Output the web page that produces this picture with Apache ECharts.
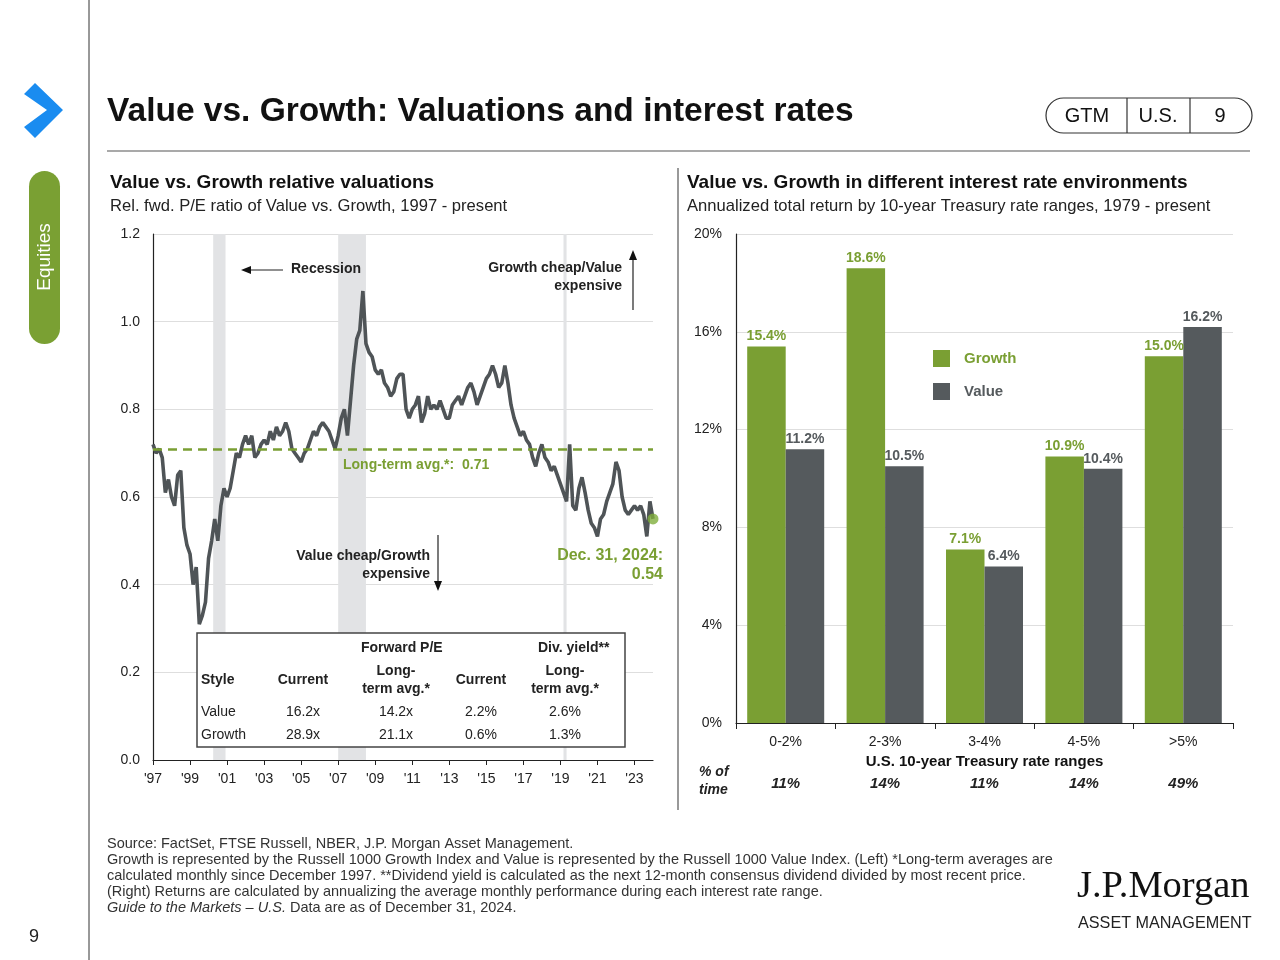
<!DOCTYPE html>
<html><head><meta charset="utf-8">
<script src="https://cdn.jsdelivr.net/npm/echarts@6/dist/echarts.min.js"></script>
<style>html,body{margin:0;padding:0;background:#fff}#c{width:1280px;height:960px}</style>
</head><body><div id="c"></div>
<script>
// ---------- DATA ----------
// Left: relative fwd P/E (Value / Growth), sampled every 2 months from Dec 1997
const relStartYear = 1997, relStartMonth = 12, relStepMonths = 2;
const relValues = [
  0.72,0.70,0.71,0.69,0.61,0.64,0.60,0.58,0.65,0.66,
  0.53,0.49,0.47,0.40,0.44,0.31,0.33,0.36,0.46,0.50,
  0.55,0.50,0.58,0.62,0.60,0.62,0.66,0.70,0.69,0.72,
  0.74,0.72,0.74,0.69,0.70,0.72,0.73,0.72,0.75,0.73,
  0.76,0.74,0.75,0.77,0.75,0.71,0.70,0.69,0.68,0.70,
  0.71,0.73,0.75,0.74,0.76,0.77,0.76,0.75,0.73,0.71,
  0.74,0.78,0.80,0.74,0.82,0.90,0.96,0.98,1.07,0.95,
  0.93,0.92,0.89,0.88,0.89,0.86,0.85,0.83,0.84,0.87,
  0.88,0.88,0.80,0.78,0.80,0.81,0.83,0.77,0.79,0.83,
  0.80,0.81,0.80,0.82,0.80,0.78,0.78,0.81,0.82,0.83,
  0.81,0.83,0.85,0.86,0.84,0.81,0.83,0.85,0.87,0.88,
  0.90,0.88,0.85,0.86,0.90,0.86,0.81,0.78,0.76,0.74,
  0.75,0.73,0.72,0.69,0.67,0.70,0.72,0.69,0.68,0.66,
  0.67,0.65,0.63,0.61,0.59,0.72,0.58,0.57,0.62,0.645,
  0.61,0.57,0.54,0.53,0.51,0.55,0.56,0.59,0.61,0.63,
  0.68,0.66,0.60,0.57,0.56,0.57,0.58,0.57,0.58,0.56,
  0.51,0.59,0.55
];
const recessions = [['2001-03','2001-11'],['2007-12','2009-06'],['2020-02','2020-04']];
const longTermAvg = 0.71;
const latestLabel = '0.54';
const relYTicks = { min: 0, max: 1.2, interval: 0.2 };

const tableHeader = ['Style','Current','Long-\nterm avg.*','Current','Long-\nterm avg.*'];
const tableRows = [
  ['Value','16.2x','14.2x','2.2%','2.6%'],
  ['Growth','28.9x','21.1x','0.6%','1.3%']
];

// Right: annualized total return by 10y Treasury range
const rateRanges = ['0-2%','2-3%','3-4%','4-5%','>5%'];
const growthReturns = [15.4, 18.6, 7.1, 10.9, 15.0];
const valueReturns  = [11.2, 10.5, 6.4, 10.4, 16.2];
const pctOfTime = ['11%','14%','11%','14%','49%'];

// ---------- BUILD ----------
const GREEN = '#7a9f33', GRAY = '#555a5d', LINE = '#4f5457';
const FONT = '"Liberation Sans", Arial, Helvetica, sans-serif';

function monthIdx(s){ const [y,m] = s.split('-').map(Number); return (y - relStartYear)*12 + (m - relStartMonth); }
const relData = relValues.map((v,i)=>[i*relStepMonths, v]);
const lastX = (relValues.length-1)*relStepMonths;

function T(x,y,text,o){
  const st = Object.assign({text:text, fill:'#222', fontSize:14, fontFamily:FONT, fontWeight:'normal',
    align:'left', verticalAlign:'middle', textAlign:'left', textVerticalAlign:'middle'}, o||{});
  if (st.align) st.textAlign = st.align;
  return {type:'text', x:x, y:y, z:50, silent:true, style:st};
}
function L(x1,y1,x2,y2,c,w){ return {type:'line', z:40, silent:true, shape:{x1,y1,x2,y2}, style:{stroke:c||'#333', lineWidth:w||1}}; }
function P(points,c){ return {type:'polygon', z:40, silent:true, shape:{points}, style:{fill:c||'#111'}}; }

const FOOT = {fontSize:14.5, fill:'#333'};
const graphics = [
  // sidebar
  P([[24,94],[35,83],[63,110],[35,138],[24,127],[47,110]], '#1a8cf0'),
  {type:'rect', z:40, shape:{x:29,y:171,width:31,height:173,r:15.5}, style:{fill:'#7aa033'}},
  {type:'text', z:50, x:45, y:257, rotation:Math.PI/2, style:{text:'Equities', fill:'#fff', fontSize:19, fontFamily:FONT, align:'center', verticalAlign:'middle', textAlign:'center', textVerticalAlign:'middle'}},
  L(89,0,89,960,'#333',1),
  T(29,937,'9',{fontSize:18}),
  // header
  T(107,112,'Value vs. Growth: Valuations and interest rates',{fontSize:33.5, fontWeight:'bold', fill:'#111'}),
  {type:'rect', z:40, shape:{x:1046,y:98,width:206,height:35,r:17.5}, style:{fill:'none', stroke:'#333', lineWidth:1.2}},
  L(1127,98,1127,133,'#333',1.2), L(1190,98,1190,133,'#333',1.2),
  T(1087,116,'GTM',{fontSize:20, align:'center', fill:'#111'}),
  T(1158,116,'U.S.',{fontSize:20, align:'center', fill:'#111'}),
  T(1220,116,'9',{fontSize:20, align:'center', fill:'#111'}),
  L(107,151,1250,151,'#555',1.2),
  L(678,168,678,810,'#555',1.2),
  // chart titles
  T(110,183,'Value vs. Growth relative valuations',{fontSize:19, fontWeight:'bold', fill:'#111'}),
  T(110,206,'Rel. fwd. P/E ratio of Value vs. Growth, 1997 - present',{fontSize:16.6, fill:'#222'}),
  T(687,183,'Value vs. Growth in different interest rate environments',{fontSize:19, fontWeight:'bold', fill:'#111'}),
  T(687,206,'Annualized total return by 10-year Treasury rate ranges, 1979 - present',{fontSize:16.6, fill:'#222'}),
  // left annotations
  T(291,269,'Recession',{fontWeight:'bold'}),
  L(283,270,248,270,'#222',1.2), P([[241,270],[251,266],[251,274]],'#111'),
  T(622,268,'Growth cheap/Value',{fontWeight:'bold', align:'right'}),
  T(622,286,'expensive',{fontWeight:'bold', align:'right'}),
  L(633,310,633,258,'#222',1.2), P([[633,250],[629,260],[637,260]],'#111'),
  T(430,556,'Value cheap/Growth',{fontWeight:'bold', align:'right'}),
  T(430,574,'expensive',{fontWeight:'bold', align:'right'}),
  L(438,535,438,583,'#222',1.2), P([[438,591],[434,581],[442,581]],'#111'),
  T(343,465,'Long-term avg.*:  '+longTermAvg.toFixed(2),{fontWeight:'bold', fill:GREEN}),
  T(663,556,'Dec. 31, 2024:',{fontWeight:'bold', fill:GREEN, fontSize:16, align:'right'}),
  T(663,575,latestLabel,{fontWeight:'bold', fill:GREEN, fontSize:16, align:'right'}),
  // table
  {type:'rect', z:45, shape:{x:197,y:633,width:428,height:114}, style:{fill:'#fff', stroke:'#444', lineWidth:1.5}},
  L(197,658,625,658,'#444',1.5), L(197,698,625,698,'#444',1.5),
  T(361,648,'Forward P/E',{fontWeight:'bold'}),
  T(538,648,'Div. yield**',{fontWeight:'bold'}),
  // right chart extra
  T(699,772,'% of',{fontWeight:'bold', fontStyle:'italic'}),
  T(699,790,'time',{fontWeight:'bold', fontStyle:'italic'}),
  // footer
  T(107,844,'Source: FactSet, FTSE Russell, NBER, J.P. Morgan Asset Management.',FOOT),
  T(107,860,'Growth is represented by the Russell 1000 Growth Index and Value is represented by the Russell 1000 Value Index. (Left) *Long-term averages are',FOOT),
  T(107,876,'calculated monthly since December 1997. **Dividend yield is calculated as the next 12-month consensus dividend divided by most recent price.',FOOT),
  T(107,892,'(Right) Returns are calculated by annualizing the average monthly performance during each interest rate range.',FOOT),
  T(107,908,'{i|Guide to the Markets – U.S.} Data are as of December 31, 2024.',Object.assign({rich:{i:{fontStyle:'italic', fontSize:14.5, fontFamily:FONT, fill:'#333'}}},FOOT)),
  // logo
  T(1077,887,'J.P.Morgan',{fontSize:38.5, fontFamily:'"Liberation Serif", "DejaVu Serif", serif', fill:'#111'}),
  T(1078,924,'ASSET MANAGEMENT',{fontSize:16.2, fill:'#222'})
];
// table headers and rows
const colX = [201, 303, 396, 481, 565];
tableHeader.forEach((h,i)=>{
  if (h.indexOf('\n')>=0){
    const parts = h.split('\n');
    graphics.push(T(colX[i],671,parts[0],{fontWeight:'bold', align:'center'}));
    graphics.push(T(colX[i],689,parts[1],{fontWeight:'bold', align:'center'}));
  } else {
    graphics.push(T(colX[i],680,h,{fontWeight:'bold', align: i===0?'left':'center'}));
  }
});
tableRows.forEach((r,ri)=>{
  r.forEach((c,i)=>{
    graphics.push(T(colX[i], 712 + ri*23, c, {align: i===0?'left':'center'}));
  });
});

const chart = echarts.init(document.getElementById('c'), null, {renderer:'canvas'});
chart.setOption({
  animation:false,
  textStyle:{fontFamily:FONT},
  grid:[
    {left:153, top:234, width:500, height:526},
    {left:736, top:234, width:497, height:489}
  ],
  xAxis:[
    {type:'value', gridIndex:0, min:0, max:lastX, interval:24,
     axisLine:{lineStyle:{color:'#222', width:1.2}}, axisTick:{show:true, length:5, lineStyle:{color:'#222'}},
     splitLine:{show:false},
     axisLabel:{margin:12, color:'#222', fontSize:14, showMaxLabel:false,
       formatter:v=> (v%24===0) ? "'"+String(relStartYear + v/12).slice(2) : ''}},
    {type:'category', gridIndex:1, data:rateRanges,
     axisLine:{lineStyle:{color:'#222', width:1.2}}, axisTick:{show:true, length:6, lineStyle:{color:'#222'}},
     axisLabel:{margin:12, color:'#222', fontSize:14},
     name:'U.S. 10-year Treasury rate ranges', nameLocation:'middle', nameGap:30,
     nameTextStyle:{fontWeight:'bold', fontSize:15, color:'#111'}},
    {type:'category', gridIndex:1, data:pctOfTime, position:'bottom', offset:42,
     axisLine:{show:false}, axisTick:{show:false},
     axisLabel:{margin:11, color:'#222', fontSize:15, fontWeight:'bold', fontStyle:'italic'}}
  ],
  yAxis:[
    {type:'value', gridIndex:0, min:relYTicks.min, max:relYTicks.max, interval:relYTicks.interval,
     axisLine:{show:true, lineStyle:{color:'#222', width:1.2}}, axisTick:{show:false},
     splitLine:{lineStyle:{color:'#dedede', width:1.2}},
     axisLabel:{margin:13, color:'#222', fontSize:14, formatter:v=>v.toFixed(1)}},
    {type:'value', gridIndex:1, min:0, max:20, interval:4,
     axisLine:{show:true, lineStyle:{color:'#222', width:1.2}}, axisTick:{show:false},
     splitLine:{lineStyle:{color:'#dedede', width:1.2}},
     axisLabel:{margin:14, color:'#222', fontSize:14, formatter:v=>v+'%'}}
  ],
  legend:{
    data:[{name:'Growth', textStyle:{color:GREEN}},{name:'Value', textStyle:{color:GRAY}}],
    orient:'vertical', left:933, top:350, padding:0, itemWidth:17, itemHeight:17, itemGap:16, icon:'rect',
    textStyle:{fontSize:15, fontWeight:'bold', padding:[0,0,0,9]}
  },
  series:[
    {type:'line', name:'recessions', xAxisIndex:0, yAxisIndex:0, data:relData, z:1, silent:true,
     showSymbol:false, lineStyle:{width:0, opacity:0},
     markArea:{silent:true, itemStyle:{color:'#e2e3e5'},
       data: recessions.map(r=>[{xAxis:monthIdx(r[0])},{xAxis:monthIdx(r[1])}])},
     markLine:{silent:true, symbol:['none','none'], label:{show:false},
       lineStyle:{color:GREEN, type:[9,6], width:2.5}, data:[{yAxis:longTermAvg}]}},
    {type:'line', name:'rel', xAxisIndex:0, yAxisIndex:0, data:relData, z:3, silent:true,
     showSymbol:false, lineStyle:{color:LINE, width:3.6}},
    {type:'scatter', name:'latest', xAxisIndex:0, yAxisIndex:0, data:[[lastX, relValues[relValues.length-1]]],
     symbolSize:11, itemStyle:{color:'#7fae3c'}, z:5, silent:true},
    {type:'bar', name:'Growth', xAxisIndex:1, yAxisIndex:1, data:growthReturns, barWidth:38.5, barGap:'0%',
     itemStyle:{color:GREEN},
     label:{show:true, position:'top', distance:3, color:GREEN, fontWeight:'bold', fontSize:14, formatter:p=>p.value.toFixed(1)+'%'}},
    {type:'bar', name:'Value', xAxisIndex:1, yAxisIndex:1, data:valueReturns, barWidth:38.5, barGap:'0%',
     itemStyle:{color:GRAY},
     label:{show:true, position:'top', distance:3, color:GRAY, fontWeight:'bold', fontSize:14, formatter:p=>p.value.toFixed(1)+'%'}}
  ],
  graphic: graphics
});
</script></body></html>
